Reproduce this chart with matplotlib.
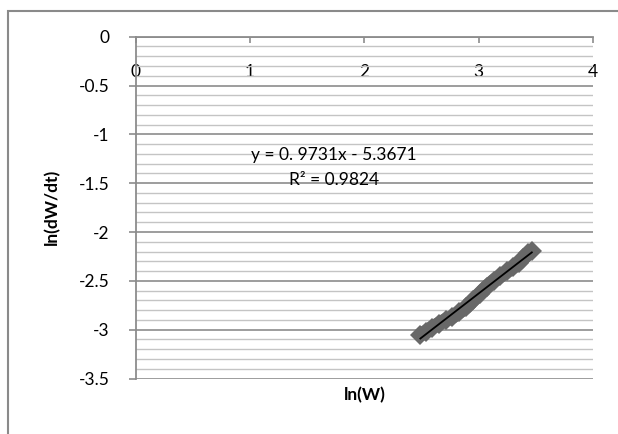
import numpy as np
import matplotlib
matplotlib.use("Agg")
import matplotlib.pyplot as plt
from matplotlib.patches import Rectangle

# Data
ln_w = [2.49, 2.54, 2.59, 2.65, 2.71, 2.77, 2.83, 2.89, 2.95, 3.01,
        3.07, 3.13, 3.19, 3.25, 3.30, 3.35, 3.39, 3.43, 3.465]
ln_dwdt = [-3.05, -3.02, -2.98, -2.94, -2.90, -2.87, -2.82, -2.77, -2.70, -2.63,
           -2.56, -2.50, -2.45, -2.40, -2.36, -2.32, -2.27, -2.22, -2.19]
x_ticks = [0, 1, 2, 3, 4]
y_ticks = [0, -0.5, -1, -1.5, -2, -2.5, -3, -3.5]
eq_text = "y = 0. 9731x - 5.3671"
r2_text = "R² = 0.9824"

plt.rcParams['font.family'] = ['Lato', 'DejaVu Sans']

fig = plt.figure(figsize=(6.18, 4.34), dpi=100)
fig.patch.set_facecolor('white')
# outer chart-area border (cut off at right/bottom in the reference)
fig.add_artist(Rectangle((8/618, -0.1), 1.2, (434-11)/434 + 0.1,
                         transform=fig.transFigure, fill=False,
                         edgecolor='#8a8a8a', linewidth=1.5))

ax = fig.add_axes([135.7/618, 1 - 378.5/434, (593-135.7)/618, (378.5-36.7)/434])
ax.set_xlim(0, 4)
ax.set_ylim(-3.5, 0)

# gridlines
ax.set_yticks(y_ticks)
ax.set_yticks(np.arange(-3.5, 0.001, 0.1), minor=True)
ax.yaxis.grid(True, which='minor', color='#c4c4c4', linewidth=1.0)
ax.yaxis.grid(True, which='major', color='#8c8c8c', linewidth=1.2)
ax.set_axisbelow(True)

# spines: left axis and x axis at y = 0
for s in ['right', 'top']:
    ax.spines[s].set_visible(False)
ax.spines['bottom'].set_position(('data', 0))
ax.spines['bottom'].set_color('#8c8c8c')
ax.spines['bottom'].set_linewidth(1.3)
ax.spines['left'].set_color('#8c8c8c')
ax.spines['left'].set_linewidth(1.3)

ax.set_xticks(x_ticks)
ax.set_xticklabels([str(v) for v in x_ticks])
ax.tick_params(axis='x', direction='out', length=4, width=1.2, color='#8c8c8c',
               pad=16, labelsize=12.5, labelcolor='black')
ax.set_yticklabels([f"{v:g}" for v in y_ticks])
ax.tick_params(axis='y', which='major', direction='out', length=5, width=1.2,
               color='#8c8c8c', pad=14, labelsize=12.5)
ax.tick_params(axis='y', which='minor', length=0)

# data series: thick gray diamonds
ax.plot(ln_w, ln_dwdt, color='#686868', linewidth=10, solid_capstyle='butt',
        marker='D', markersize=10, markeredgewidth=0, zorder=3)

# linear trendline
coef = np.polyfit(ln_w, ln_dwdt, 1)
tx = np.array([min(ln_w), max(ln_w)])
ax.plot(tx, np.polyval(coef, tx), color='black', linewidth=1.3, zorder=4)

ax.text(1.735, -1.212, eq_text, ha='center', va='center', fontsize=12.5, zorder=5)
ax.text(1.735, -1.468, r2_text, ha='center', va='center', fontsize=12.5, zorder=5)

fig.text(364.5/618, 1 - 395/434, "ln(W)", ha='center', va='center',
         fontsize=12.5, fontweight='bold')
fig.text(52/618, 1 - 207/434, "ln(dW/dt)", ha='center', va='center',
         fontsize=12.5, fontweight='bold', rotation=90)

fig.savefig("out.png", dpi=100, facecolor='white')
